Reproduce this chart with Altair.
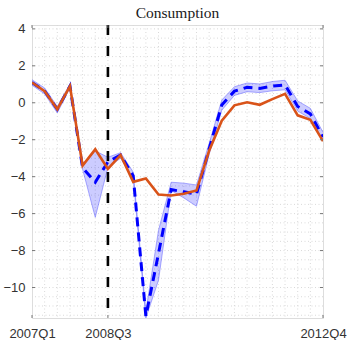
import altair as alt
import pandas as pd

# Quarterly periods 2007Q1 .. 2012Q4
quarters = [f"{y}Q{q}" for y in range(2007, 2013) for q in range(1, 5)]

# Actual consumption growth (solid line)
actual = [1.1, 0.63, -0.35, 0.9, -3.4, -2.52, -3.58, -2.83, -4.28, -4.1,
          -4.97, -5.02, -4.92, -4.75, -2.6, -0.97, -0.14, 0.03, -0.11, 0.2,
          0.48, -0.68, -0.92, -2.08]

# Model counterfactual, median (dashed line) and band bounds
median = [1.1, 0.63, -0.35, 0.9, -3.52, -4.3, -3.2, -2.83, -3.95, -11.55,
          -8.15, -4.7, -4.82, -4.95, -2.5, -0.12, 0.63, 0.84, 0.78, 0.9,
          0.97, -0.2, -0.6, -1.85]
band_hi = [1.25, 0.8, -0.2, 1.02, -3.33, -2.6, -2.95, -2.7, -3.75, -11.3,
           -6.9, -4.3, -4.35, -4.45, -2.2, 0.15, 0.87, 1.07, 1.02, 1.15,
           1.22, 0.1, -0.3, -1.6]
band_lo = [0.95, 0.48, -0.55, 0.8, -3.6, -6.2, -3.5, -3.0, -4.1, -11.65,
           -9.6, -4.75, -5.15, -5.6, -2.8, -0.4, 0.4, 0.6, 0.55, 0.65,
           0.7, -0.45, -0.85, -2.05]

# Axis ticks and the event marker
x_tick_idx = [0, 6, 23]
y_ticks = [-10, -8, -6, -4, -2, 0, 2, 4]
event_idx = [6]

y_domain = [-11.65, 4.21]
W, H = 291, 293

t = list(range(len(quarters)))
df = pd.DataFrame({"t": t, "quarter": quarters, "actual": actual,
                   "median": median, "hi": band_hi, "lo": band_lo})

label_map = "{" + ",".join(f"'{i}':'{quarters[i]}'" for i in x_tick_idx) + "}"
xscale = alt.Scale(domain=[0, len(quarters) - 1], nice=False, zero=False)
yscale = alt.Scale(domain=y_domain, nice=False, zero=False)

ax_x = alt.Axis(values=x_tick_idx, labelExpr=f"{label_map}[datum.value]",
                grid=False, ticks=False, domain=False, labelPadding=9,
                labelFlush=False, labelOverlap=False, labelBound=False,
                labelFontSize=13, labelColor="#333333", labelFont="Liberation Sans",
                title=None)
ax_y = alt.Axis(values=y_ticks, grid=False, ticks=False, domain=False,
                labelPadding=7, labelFontSize=13, labelColor="#333333",
                labelFont="Liberation Sans", title=None)


def xe(field):
    return alt.X(field, scale=xscale, axis=ax_x, title=None)


def ye(field):
    return alt.Y(field, scale=yscale, axis=ax_y, title=None)


# Dotted grid: every quarter and every half unit
vgrid = pd.DataFrame({"t": t[1:-1]})
hgrid = pd.DataFrame({"v": [y_ticks[0] - 1.5 + 0.5 * k for k in range(32)
                            if y_domain[0] < y_ticks[0] - 1.5 + 0.5 * k < y_domain[1]]})

grid_style = dict(color="#d9d9d9", strokeWidth=1, strokeDash=[1, 2.5])
grid_v = alt.Chart(vgrid).mark_rule(**grid_style).encode(x=xe("t:Q"))
grid_h = alt.Chart(hgrid).mark_rule(**grid_style).encode(y=ye("v:Q"))

base = alt.Chart(df)

band = base.mark_area(color="#0000ff", opacity=0.2, clip=True).encode(
    x=xe("t:Q"), y=ye("hi:Q"), y2="lo:Q")
band_top = base.mark_line(color="#5555ff", strokeWidth=0.8, opacity=0.6,
                          clip=True).encode(x=xe("t:Q"), y=ye("hi:Q"))
band_bot = base.mark_line(color="#5555ff", strokeWidth=0.8, opacity=0.6,
                          clip=True).encode(x=xe("t:Q"), y=ye("lo:Q"))

med_line = base.mark_line(color="#0000ff", strokeWidth=3, strokeDash=[9, 6],
                          clip=True).encode(x=xe("t:Q"), y=ye("median:Q"))
act_line = base.mark_line(color="#d95319", strokeWidth=2.6,
                          clip=True).encode(x=xe("t:Q"), y=ye("actual:Q"))

event = alt.Chart(pd.DataFrame({"t": event_idx})).mark_rule(
    color="black", strokeWidth=2.6, strokeDash=[10, 11]).encode(x=xe("t:Q"))

# Small inward ticks on all four sides of the box
yt = pd.DataFrame({"v": y_ticks})
xt = pd.DataFrame({"t": x_tick_idx})
tick_color = "#777777"
tl = alt.Chart(yt).mark_rule(color=tick_color).encode(
    y=ye("v:Q"), x=alt.value(0), x2=alt.value(3))
tr = alt.Chart(yt).mark_rule(color=tick_color).encode(
    y=ye("v:Q"), x=alt.value(W - 3), x2=alt.value(W))
tb = alt.Chart(xt).mark_rule(color=tick_color).encode(
    x=xe("t:Q"), y=alt.value(H - 3), y2=alt.value(H))
tt = alt.Chart(xt).mark_rule(color=tick_color).encode(
    x=xe("t:Q"), y=alt.value(0), y2=alt.value(3))

chart = alt.layer(
    grid_v, grid_h, band, band_top, band_bot, med_line, act_line, event,
    tl, tr, tb, tt
).properties(
    width=W, height=H,
    title=alt.Title("Consumption", font="Liberation Serif", fontSize=15.5,
                    fontWeight="normal", color="#1a1a1a", offset=1),
    autosize=alt.AutoSizeParams(type="none"),
    padding={"left": 32, "top": 25, "right": 27, "bottom": 22},
).configure_view(
    stroke="#808080", strokeWidth=1
).configure(background="white")

chart.save("out.html", embed_options={"renderer": "svg", "actions": False})
